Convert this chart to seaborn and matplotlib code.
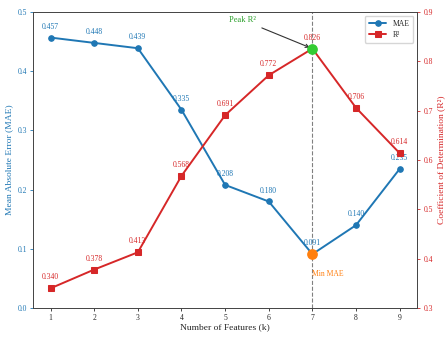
import matplotlib
matplotlib.use("Agg")
import matplotlib.pyplot as plt
import seaborn as sns
import pandas as pd

features = [1, 2, 3, 4, 5, 6, 7, 8, 9]
mae = [0.457, 0.448, 0.439, 0.335, 0.208, 0.180, 0.091, 0.140, 0.235]
r2 = [0.340, 0.378, 0.413, 0.568, 0.691, 0.772, 0.826, 0.706, 0.614]

blue = "#1f77b4"
red = "#d62728"

sns.set_theme(style="ticks")
plt.rcParams["font.family"] = ["Liberation Serif", "DejaVu Serif"]
plt.rcParams["axes.edgecolor"] = "#444444"

df = pd.DataFrame({"k": features, "MAE": mae, "R2": r2})

fig, ax1 = plt.subplots(figsize=(4.48, 3.37), dpi=100)
fig.subplots_adjust(left=0.074, right=0.931, top=0.964, bottom=0.086)
ax2 = ax1.twinx()

sns.lineplot(data=df, x="k", y="MAE", ax=ax1, color=blue, marker="o",
             markersize=4, markeredgecolor=blue, linewidth=1.4, label="MAE", legend=False)
sns.lineplot(data=df, x="k", y="R2", ax=ax2, color=red, marker="s",
             markersize=4, markeredgecolor=red, linewidth=1.4, label="R²", legend=False)

for x, y in zip(features, mae):
    ax1.annotate(f"{y:.3f}", (x, y), xytext=(0, 5), textcoords="offset points",
                 ha="center", va="bottom", fontsize=5.5, color=blue)
for x, y in zip(features, r2):
    ax2.annotate(f"{y:.3f}", (x, y), xytext=(0, 5), textcoords="offset points",
                 ha="center", va="bottom", fontsize=5.5, color=red)

best = mae.index(min(mae))
ax1.axvline(features[best], color="grey", linestyle="--", linewidth=0.8)
ax1.scatter([features[best]], [mae[best]], s=45, color="#ff7f0e", zorder=5)
ax2.scatter([features[best]], [r2[best]], s=45, color="#33cc33", zorder=5)
ax1.text(features[best], 0.057, "Min MAE", color="#ff7f0e", fontsize=5.5,
         ha="left", va="center")
ax2.annotate("Peak R²", xy=(features[best], r2[best]), xytext=(5.4, 0.884),
             color="#2ca02c", fontsize=6, ha="center", va="center",
             arrowprops=dict(arrowstyle="->", color="#333333", lw=0.8))

ax1.set_xlim(0.6, 9.4)
ax1.set_ylim(0, 0.5)
ax2.set_ylim(0.3, 0.9)
ax1.set_xticks(features)
ax1.set_xlabel("Number of Features (k)", fontsize=6.8, labelpad=1)
ax1.set_ylabel("Mean Absolute Error (MAE)", fontsize=6.8, color=blue, labelpad=3)
ax2.set_ylabel("Coefficient of Determination (R²)", fontsize=6.8, color=red, labelpad=3)
ax1.tick_params(axis="x", labelsize=5.5, length=2.5, width=0.6, pad=1.5)
ax1.tick_params(axis="y", labelsize=5.5, colors=blue, length=2.5, width=0.6, pad=2)
ax2.tick_params(axis="y", labelsize=5.5, colors=red, length=2.5, width=0.6, pad=2)
for a in (ax1, ax2):
    for s in a.spines.values():
        s.set_linewidth(0.6)

h1, l1 = ax1.get_legend_handles_labels()
h2, l2 = ax2.get_legend_handles_labels()
ax2.legend(h1 + h2, l1 + l2, loc="upper right", fontsize=5.5, frameon=True,
           borderpad=0.5, handlelength=2.3, labelspacing=0.4)

fig.savefig("out.png", dpi=100)
